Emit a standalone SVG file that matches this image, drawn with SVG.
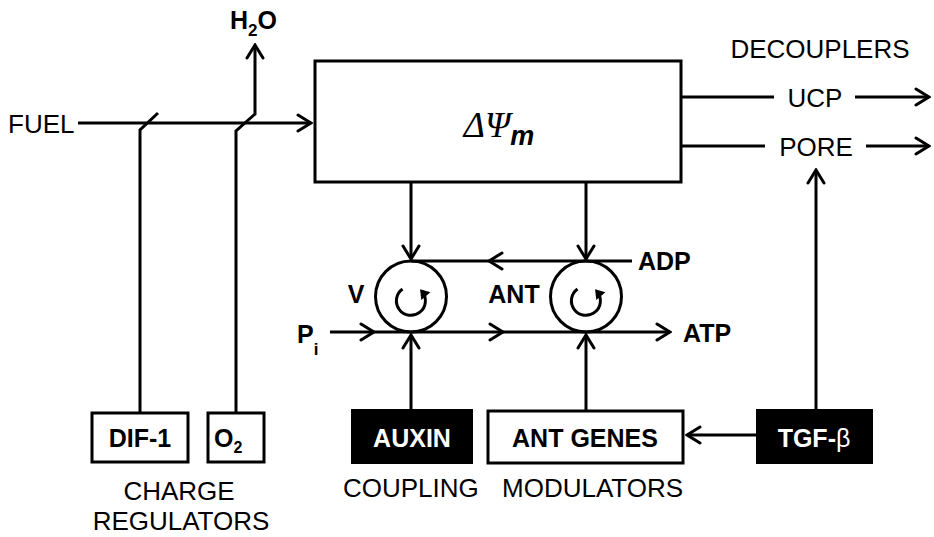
<svg xmlns="http://www.w3.org/2000/svg" width="934" height="537" viewBox="0 0 934 537">
  <style>
    .ln { fill: none; stroke: #000; stroke-width: 3; }
    .box { fill: #fff; stroke: #000; stroke-width: 3; }
    .bbox { fill: #000; stroke: #000; stroke-width: 2; }
    .lab { font-family: "Liberation Sans", Arial, sans-serif; font-size: 26px; fill: #000; }
    .bl { font-family: "Liberation Sans", Arial, sans-serif; font-size: 25px; font-weight: bold; fill: #000; }
    .wl { font-family: "Liberation Sans", Arial, sans-serif; font-size: 25px; font-weight: bold; fill: #fff; }
  </style>
  <defs>
    <marker id="ah" viewBox="-16 -10 18 20" markerWidth="18" markerHeight="20" refX="0" refY="0" orient="auto" markerUnits="userSpaceOnUse">
      <path d="M-13,-8 L0,0 L-13,8" fill="none" stroke="#000" stroke-width="3" stroke-linejoin="miter" stroke-linecap="round"/>
    </marker>
    <marker id="sm" viewBox="-8 -7 12 14" markerWidth="12" markerHeight="14" refX="0" refY="0" orient="auto" markerUnits="userSpaceOnUse">
      <path d="M-6,-6 L3,0 L-6,6 z" fill="#000"/>
    </marker>
  </defs>
  <rect width="934" height="537" fill="#fff"/>

  <g id="connectors">
    <path class="ln" d="M78,123 L311,123" marker-end="url(#ah)"/>
    <path class="ln" d="M140,413 L140,130 L158,113"/>
    <path class="ln" d="M236,413 L236,131 L255,114 L255,45" marker-end="url(#ah)"/>
    <path class="ln" d="M411,182 L411,259" marker-end="url(#ah)"/>
    <path class="ln" d="M586,182 L586,259" marker-end="url(#ah)"/>
    <path class="ln" d="M632,261 L489,261 L411,261" marker-mid="url(#ah)"/>
    <path class="ln" d="M330,332 L374,332 L503,332 L670,332" marker-mid="url(#ah)" marker-end="url(#ah)"/>
    <path class="ln" d="M411,410 L411,335" marker-end="url(#ah)"/>
    <path class="ln" d="M586,410 L586,335" marker-end="url(#ah)"/>
    <path class="ln" d="M816,410 L816,170" marker-end="url(#ah)"/>
    <path class="ln" d="M757,435 L687,435" marker-end="url(#ah)"/>
    <path class="ln" d="M681,97 L774,97"/>
    <path class="ln" d="M855,97 L929,97" marker-end="url(#ah)"/>
    <path class="ln" d="M681,146 L765,146"/>
    <path class="ln" d="M866,146 L929,146" marker-end="url(#ah)"/>
  </g>

  <g id="psi-box">
    <rect class="box" x="315" y="61" width="366" height="121"/>
    <text x="499" y="137" font-family="Liberation Serif, serif" font-style="italic" font-size="36" text-anchor="middle">ΔΨ<tspan font-family="Liberation Sans, sans-serif" font-size="27" font-weight="bold" dy="8">m</tspan></text>
  </g>

  <g id="circle-v">
    <circle class="ln" cx="411" cy="296.5" r="35.5"/>
    <path class="ln" d="M402.5,289 A14.5,14.5 0 1 0 422,291.5" stroke-width="3.2" marker-end="url(#sm)"/>
    <text class="bl" x="356" y="303" text-anchor="middle">V</text>
  </g>

  <g id="circle-ant">
    <circle class="ln" cx="586" cy="296.5" r="35.5"/>
    <path class="ln" d="M577.5,289 A14.5,14.5 0 1 0 597,291.5" stroke-width="3.2" marker-end="url(#sm)"/>
    <text class="bl" x="514" y="303" text-anchor="middle">ANT</text>
  </g>

  <g id="fuel"><text class="lab" x="8" y="133">FUEL</text></g>
  <g id="h2o"><text class="bl" x="230" y="29" font-size="25">H<tspan font-size="17" dy="7">2</tspan><tspan dy="-7">O</tspan></text></g>
  <g id="decouplers"><text class="lab" x="820" y="58" text-anchor="middle">DECOUPLERS</text></g>
  <g id="ucp"><text class="lab" x="815" y="107" text-anchor="middle">UCP</text></g>
  <g id="pore"><text class="lab" x="816" y="156" text-anchor="middle">PORE</text></g>
  <g id="adp"><text class="bl" x="638" y="270">ADP</text></g>
  <g id="atp"><text class="bl" x="683" y="342">ATP</text></g>
  <g id="pi"><text class="bl" x="297" y="343">P<tspan font-size="17" dy="12">i</tspan></text></g>

  <g id="dif1">
    <rect class="box" x="92" y="413" width="96" height="49"/>
    <text class="bl" x="140" y="447" text-anchor="middle">DIF-1</text>
  </g>
  <g id="o2">
    <rect class="box" x="208" y="413" width="56" height="49"/>
    <text class="bl" x="214" y="447">O<tspan font-size="16" dy="6">2</tspan></text>
  </g>
  <g id="charge-regulators">
    <text class="lab" x="179" y="500" text-anchor="middle">CHARGE</text>
    <text class="lab" x="181" y="530" text-anchor="middle">REGULATORS</text>
  </g>

  <g id="auxin">
    <rect class="bbox" x="352" y="410" width="120" height="53"/>
    <text class="wl" x="412" y="447" text-anchor="middle">AUXIN</text>
  </g>
  <g id="ant-genes">
    <rect class="box" x="488" y="411" width="195" height="52"/>
    <text class="bl" x="585" y="447" text-anchor="middle" font-size="26">ANT GENES</text>
  </g>
  <g id="tgfb">
    <rect class="bbox" x="757" y="410" width="115" height="53"/>
    <text class="wl" x="814" y="447" text-anchor="middle">TGF-<tspan font-weight="normal">β</tspan></text>
  </g>
  <g id="coupling-modulators">
    <text class="lab" x="343" y="497">COUPLING</text>
    <text class="lab" x="502" y="497">MODULATORS</text>
  </g>
</svg>
